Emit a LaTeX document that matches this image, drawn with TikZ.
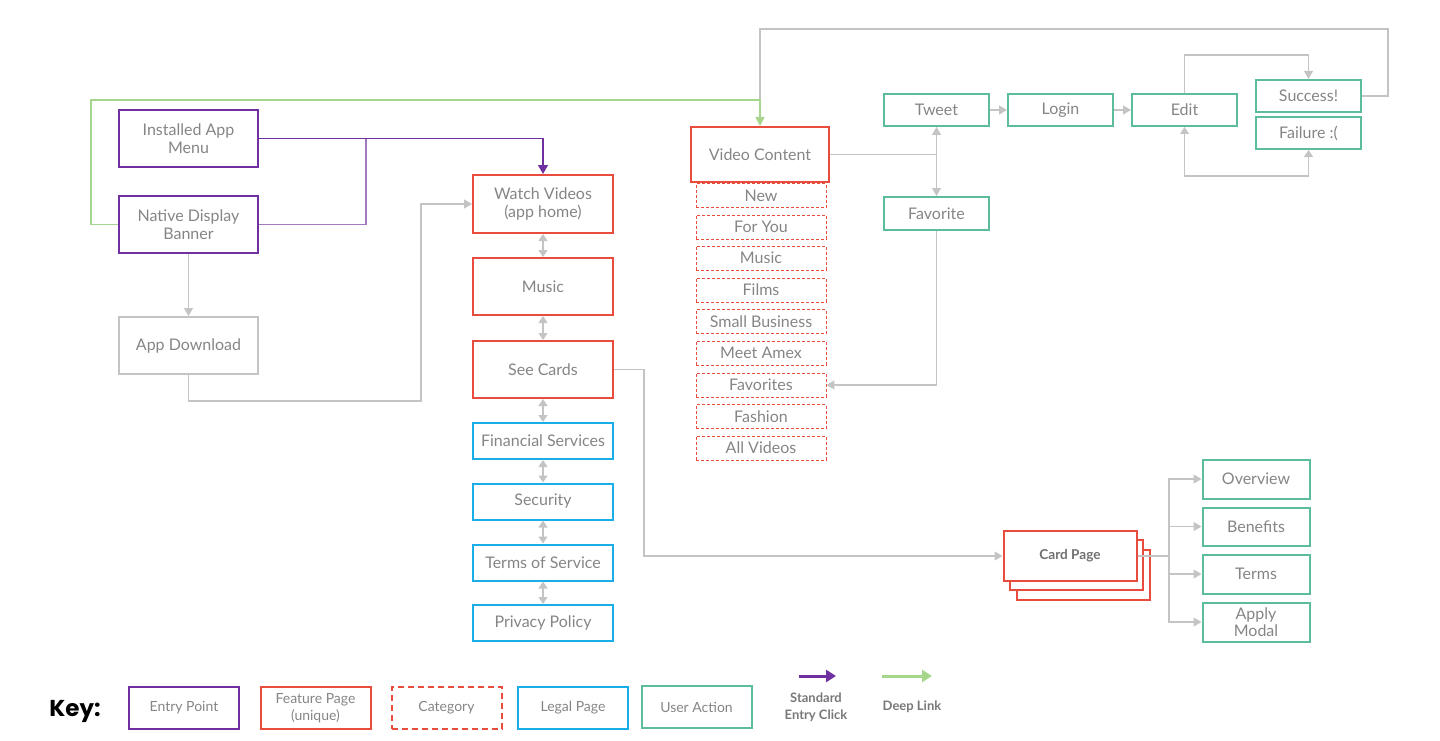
\documentclass[tikz,border=0pt]{standalone}
\usepackage{fontspec}
\setmainfont{Lato}
\newfontfamily\keyfont{Poppins}
\usetikzlibrary{arrows.meta}
\definecolor{cpurple}{HTML}{7030A0}
\definecolor{cred}{HTML}{E84C3D}
\definecolor{cblue}{HTML}{1AAEE8}
\definecolor{cteal}{HTML}{5BBD9A}
\definecolor{cgreen}{HTML}{A6D68C}
\definecolor{cgray}{HTML}{C4C4C4}
\definecolor{ctext}{HTML}{858585}
\begin{document}
\begin{tikzpicture}[x=1pt,y=-1pt,
 box/.style={rectangle, inner sep=0pt, align=center, text=ctext, font=\fontsize{16}{18}\selectfont},
 entry/.style={box, draw=cpurple, line width=2pt, minimum width=139pt, minimum height=57pt},
 feature/.style={box, draw=cred, line width=2pt, minimum width=140pt, minimum height=57pt},
 category/.style={box, draw=cred, line width=0.9pt, dash pattern=on 3pt off 2pt, minimum width=130pt, minimum height=24pt},
 legal/.style={box, draw=cblue, line width=2pt, minimum width=140pt, minimum height=36pt},
 action/.style={box, draw=cteal, line width=2pt, minimum width=105pt, minimum height=32pt},
 keybox/.style={minimum width=110pt, minimum height=42pt, font=\fontsize{14}{17}\selectfont},
 conn/.style={draw=cgray, line width=1.2pt},
 tip/.style={-{Triangle[width=9pt,length=8pt]}},
 dtip/.style={{Triangle[width=9pt,length=7pt]}-{Triangle[width=9pt,length=7pt]}},
 std/.style={draw=cpurple, line width=1.3pt, -{Triangle[width=10pt,length=9pt]}},
 deep/.style={draw=cgreen, line width=1.2pt, -{Triangle[width=9pt,length=9pt]}},
 keylbl/.style={align=center, text=ctext!90!black, font=\fontsize{13}{17}\selectfont\bfseries}
]
\useasboundingbox (0,0) rectangle (1440,741);

% entry points
\node[entry] (iam) at (188.5,138.5) {Installed App\\Menu};
\node[entry] (ndb) at (188.5,224.5) {Native Display\\Banner};
\node[box, draw=cgray, line width=2pt, minimum width=139pt, minimum height=57pt] (appdl) at (188.5,345.5) {App Download};

% feature column
\node[feature, minimum height=58pt] (watch) at (543,204) {Watch Videos\\(app home)};
\node[feature] (music) at (543,286.5) {Music};
\node[feature] (cards) at (543,369.5) {See Cards};
\node[legal] (fin) at (543,441) {Financial Services};
\node[legal] (sec) at (543,501.5) {Security};
\node[legal] (tos) at (543,562.5) {Terms of Service};
\node[legal] (pp) at (543,623) {Privacy Policy};

% video content
\node[feature, minimum width=138pt, minimum height=55pt] (vc) at (760,154.5) {Video Content};
\node[category] (c1) at (761,195.5) {New};
\node[category] (c2) at (761,227) {For You};
\node[category] (c3) at (761,258) {Music};
\node[category] (c4) at (761,290) {Films};
\node[category] (c5) at (761,321.5) {Small Business};
\node[category] (c6) at (761,353) {Meet Amex};
\node[category] (c7) at (761,385) {Favorites};
\node[category] (c8) at (761,416.5) {Fashion};
\node[category] (c9) at (761,448) {All Videos};

% user actions
\node[action] (tweet) at (936.5,110) {Tweet};
\node[action] (login) at (1060.5,110) {Login};
\node[action] (edit) at (1184.5,110) {Edit};
\node[action] (succ) at (1308.5,96) {Success!};
\node[action] (fail) at (1308.5,133) {Failure :(};
\node[action, minimum height=33pt] (fav) at (936.5,213.5) {Favorite};

% card page stack
\draw[cred, line width=2pt, fill=white] (1017,550) rectangle (1150,600);
\draw[cred, line width=2pt, fill=white] (1010,540) rectangle (1143,590);
\node[feature, fill=white, minimum width=133pt, minimum height=50pt, text=ctext!85!black, font=\fontsize{13.6}{16}\selectfont\bfseries] (cp) at (1070,556) {Card Page};

\node[action, minimum width=107pt, minimum height=39pt] (ov) at (1256,479) {Overview};
\node[action, minimum width=107pt, minimum height=38pt] (ben) at (1256,526.5) {Benefits};
\node[action, minimum width=107pt, minimum height=39pt] (terms) at (1256,574) {Terms};
\node[action, minimum width=107pt, minimum height=39pt, font=\fontsize{16}{17}\selectfont] (apply) at (1256,622) {Apply\\Modal};

% connectors
\coordinate (gtop) at (760,100);
\draw[conn] (succ.east) -- (1388,96) -- (1388,29) -- (760,29) -- (gtop);
\draw[deep] (ndb.west) -- ++(-27,0) |- (gtop) -- (vc.north);
\draw[draw=cpurple!65, line width=1.3pt] (ndb.east) -- (366,224.5) -- (366,139);
\draw[std] (iam.east) -| (watch.north);

\draw[conn, tip] (ndb.south) -- (appdl.north);
\coordinate (dl1) at (421,401);
\draw[conn, tip] (appdl.south) |- (dl1) |- (watch.west);

\draw[conn, dtip] (watch.south) -- (music.north);
\draw[conn, dtip] (music.south) -- (cards.north);
\draw[conn, dtip] (cards.south) -- (fin.north);
\draw[conn, dtip] (fin.south) -- (sec.north);
\draw[conn, dtip] (sec.south) -- (tos.north);
\draw[conn, dtip] (tos.south) -- (pp.north);

\coordinate (cpj) at (644,369.5);
\draw[conn, tip] (cards.east) -- (cpj) |- (cp.west);

\coordinate (vj) at (936.5,154.5);
\draw[conn] (vc.east) -- (vj);
\draw[conn, tip] (vj) -- (tweet.south);
\draw[conn, tip] (vj) -- (fav.north);
\draw[conn, tip] (tweet.east) -- (login.west);
\draw[conn, tip] (login.east) -- (edit.west);
\coordinate (et) at (1184.5,55);
\draw[conn, tip] (edit.north) -- (et) -| (succ.north);
\coordinate (eb) at (1184.5,176);
\draw[conn, dtip] (edit.south) -- (eb) -| (fail.south);
\draw[conn, tip] (fav.south) |- (c7.east);

\coordinate (cj) at (1169,556);
\draw[conn] (cp.east) -- (cj);
\draw[conn, tip] (cj) |- (ov.west);
\draw[conn, tip] (cj) |- (ben.west);
\draw[conn, tip] (cj) |- (terms.west);
\draw[conn, tip] (cj) |- (apply.west);

% key
\node[font=\keyfont\fontsize{23}{26}\selectfont\bfseries, text=black] (key) at (75,711) {Key:};
\node[entry, keybox] (k1) at (184,708) {Entry Point};
\node[feature, keybox] (k2) at (315.5,708) {Feature Page\\(unique)};
\node[box, keybox, draw=cred, line width=2pt, dash pattern=on 6pt off 4pt] (k3) at (446.5,708) {Category};
\node[legal, keybox] (k4) at (573,708) {Legal Page};
\node[action, keybox] (k5) at (696.5,707) {User Action};

\coordinate (s1) at (799,676);
\coordinate (s2) at (836,676);
\draw[draw=cpurple, line width=3pt, -{Triangle[width=12pt,length=10pt]}] (s1) -- (s2);
\node[keylbl] (sl) at (816,707) {Standard\\Entry Click};
\coordinate (d1) at (882,676);
\coordinate (d2) at (932,676);
\draw[draw=cgreen, line width=3pt, -{Triangle[width=12pt,length=10pt]}] (d1) -- (d2);
\node[keylbl] (dl) at (912,707) {Deep Link};
\end{tikzpicture}
\end{document}
